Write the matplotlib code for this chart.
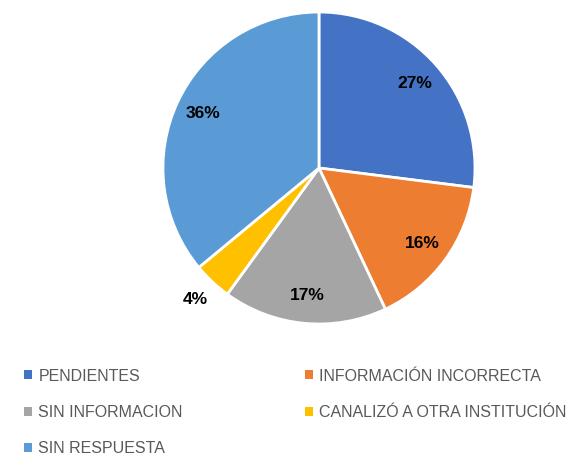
import matplotlib.pyplot as plt

etiquetas = ['PENDIENTES', 'INFORMACIÓN INCORRECTA', 'SIN INFORMACION',
             'CANALIZÓ A OTRA INSTITUCIÓN', 'SIN RESPUESTA']
valores = [27, 16, 17, 4, 36]
colores = ['#4472C4', '#ED7D31', '#A5A5A5', '#FFC000', '#5B9BD5']

plt.rcParams['font.family'] = ['Liberation Sans', 'DejaVu Sans']

fig = plt.figure(figsize=(5.74, 4.55), dpi=100)
ax = fig.add_axes([0.2839, 0.2879, 0.5436, 0.6857])

wedges, textos, pcts = ax.pie(valores, colors=colores, startangle=90, counterclock=False,
                              autopct='%d%%', pctdistance=0.82,
                              wedgeprops=dict(edgecolor='white', linewidth=2),
                              textprops=dict(fontsize=12.5, fontweight='bold', color='black'))
# la etiqueta del 4% va fuera
x, y = pcts[3].get_position()
pcts[3].set_position((x / 0.82 * 1.16, y / 0.82 * 1.16))
ax.set_xlim(-1, 1)
ax.set_ylim(-1, 1)
ax.set_aspect('equal')

orden = [0, 2, 4, 1, 3]
leg = fig.legend([wedges[i] for i in orden], [etiquetas[i] for i in orden],
                 ncol=2, loc='upper left', bbox_to_anchor=(0.042, 0.19),
                 frameon=False, fontsize=11.5, handlelength=0.5, handleheight=0.5,
                 handletextpad=0.4, labelspacing=1.33, columnspacing=7.65,
                 borderaxespad=0, borderpad=0)
for t in leg.get_texts():
    t.set_color('#595959')
for h in leg.legend_handles:
    h.set_edgecolor('none')

fig.savefig('out.png', dpi=100)
